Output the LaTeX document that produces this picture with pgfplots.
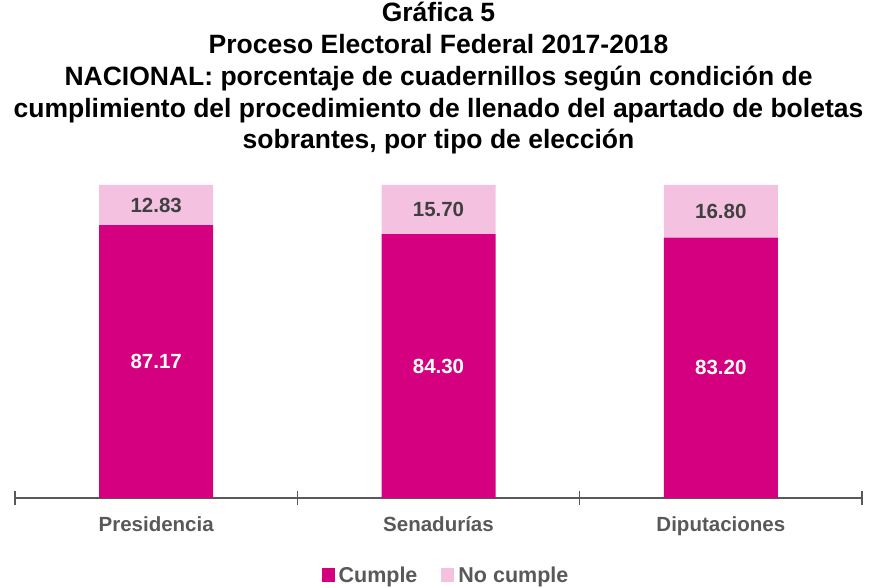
\documentclass[border=0pt]{standalone}
\usepackage{pgfplots}
\pgfplotsset{compat=1.18}
\usepackage{fontspec}
\setmainfont{Liberation Sans}
\definecolor{cumple}{HTML}{D5007F}
\definecolor{nocumple}{HTML}{F5C1E1}
\definecolor{axgray}{HTML}{595959}
\definecolor{lblgray}{HTML}{404040}
\begin{document}
\begin{tikzpicture}
\begin{axis}[
  scale only axis, width=847bp, height=313bp,
  ymin=0, ymax=100, xmin=-0.5, xmax=2.5,
  ybar stacked, bar width=114bp,
  axis y line=none, axis x line*=bottom,
  x axis line style={axgray, line width=1.5bp, -},
  xtick={0,1,2}, xticklabels={Presidencia,Senadurías,Diputaciones},
  major x tick style={draw=none},
  minor xtick={-0.5,0.5,1.5,2.5},
  minor tick length=14bp, tick align=center,
  minor x tick style={axgray, line width=1.5bp},
  xticklabel style={font=\fontsize{20.5bp}{23bp}\selectfont\bfseries, text=axgray, yshift=-13bp},
  point meta=rawy,
  nodes near coords={\pgfmathprintnumber[fixed,fixed zerofill,precision=2,assume math mode=true]{\pgfplotspointmeta}},
  every node near coord/.append style={anchor=center, font=\fontsize{20.5bp}{23bp}\selectfont\bfseries},
  legend style={at={(0.51,-0.246)}, anchor=center, legend columns=2, draw=none,
    font=\fontsize{21.5bp}{23bp}\selectfont\bfseries, text=axgray,
    nodes={inner xsep=4bp},
    /tikz/every even column/.append style={column sep=20bp},
    /tikz/every odd column/.append style={column sep=0bp}},
  legend image code/.code={\fill[#1] (0bp,-6.5bp) rectangle (13bp,6.5bp);},
  clip=false,
]
\addplot[fill=cumple, draw=none, every node near coord/.append style={text=white}] coordinates {(0,87.17) (1,84.30) (2,83.20)};
\addplot[fill=nocumple, draw=none, every node near coord/.append style={text=lblgray}] coordinates {(0,12.83) (1,15.70) (2,16.80)};
\legend{Cumple, No cumple}
\end{axis}
\node[anchor=north, align=center, inner sep=0pt, font=\fontsize{26.5bp}{31.8bp}\selectfont\bfseries] at ([yshift=183bp]current axis.north) {Gráfica 5\\Proceso Electoral Federal 2017-2018\\NACIONAL: porcentaje de cuadernillos según condición de\\cumplimiento del procedimiento de llenado del apartado de boletas\\sobrantes, por tipo de elección};
\path ([xshift=-15bp,yshift=-86bp]current axis.south west) rectangle ([xshift=8bp,yshift=185bp]current axis.north east);
\end{tikzpicture}
\end{document}
